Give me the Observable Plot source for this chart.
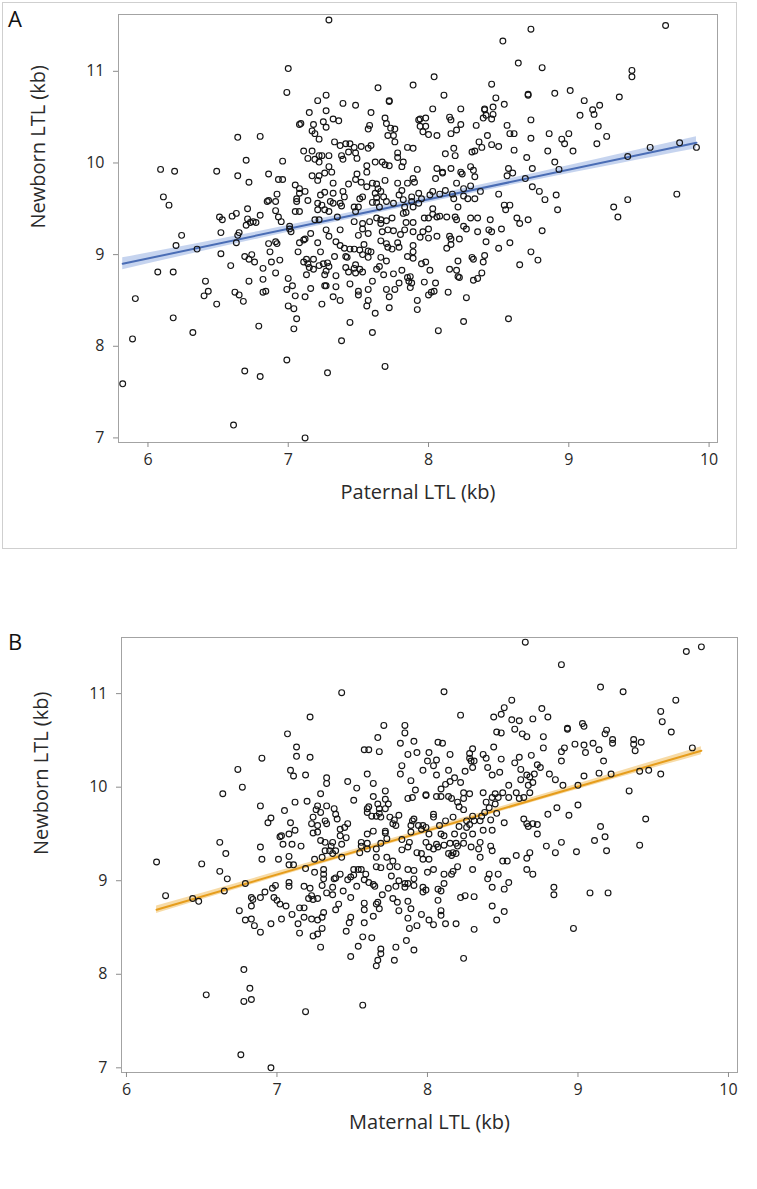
<!DOCTYPE html>
<html><head><meta charset="utf-8">
<script src="https://cdn.jsdelivr.net/npm/d3@7"></script>
<script src="https://cdn.jsdelivr.net/npm/@observablehq/plot@0.6"></script>
<style>
body{margin:0;background:#fff;font-family:"Open Sans",sans-serif;}
#wrap{position:relative;width:757px;height:1189px;overflow:hidden;}
.pl{position:absolute;left:0;}
.lab{position:absolute;font-size:22px;color:#111;font-family:"Open Sans",sans-serif;}
</style></head><body>
<div id="wrap">
  <div style="position:absolute;left:2px;top:2px;width:733px;height:545px;border:1px solid #cfcfcf;"></div>
  <div id="pa" class="pl" style="top:0"></div>
  <div id="pb" class="pl" style="top:620px"></div>
  <div class="lab" style="left:8px;top:3px">A</div>
  <div class="lab" style="left:8px;top:626px">B</div>
</div>
<script>
const xTicks = [6, 7, 8, 9, 10];
const yTicks = [7, 8, 9, 10, 11];
const yTitle = "Newborn LTL (kb)";
const xTitleA = "Paternal LTL (kb)";
const xTitleB = "Maternal LTL (kb)";

// fitted regression lines and confidence bands
const fitAx = [5.82, 9.91];
const fitAy = [8.90, 10.22];
const bandAx = [5.82, 6.8, 7.8, 8.8, 9.91];
const bandAlo = [8.835, 9.176, 9.505, 9.822, 10.155];
const bandAhi = [8.965, 9.256, 9.573, 9.902, 10.285];
const fitBx = [6.2, 9.82];
const fitBy = [8.69, 10.39];
const bandBx = [6.2, 7.1, 8.0, 8.9, 9.82];
const bandBlo = [8.65, 9.085, 9.51, 9.93, 10.347];
const bandBhi = [8.73, 9.141, 9.56, 9.986, 10.433];

const paternalLTL = [
7.00,6.99,7.21,7.27,7.15,7.27,7.08,7.09,7.18,7.17,
7.19,7.25,7.27,7.22,6.64,6.80,6.70,6.96,6.09,6.19,
6.49,6.64,6.72,6.86,6.93,6.96,7.11,7.17,7.14,7.19,
7.22,7.24,7.22,7.17,7.22,7.21,7.26,7.05,7.08,7.12,
7.08,7.06,7.06,7.14,7.23,7.26,6.92,6.91,6.85,6.86,
6.11,6.15,6.51,6.53,6.60,6.63,6.71,6.80,6.71,6.73,
6.75,6.77,6.70,6.91,6.93,6.95,7.05,7.08,7.21,7.24,
7.21,7.26,7.19,7.22,7.01,
6.24,6.52,6.65,6.64,6.20,6.35,6.52,6.63,6.07,6.18,
6.59,6.69,6.74,6.72,6.76,6.86,6.91,6.92,6.87,6.88,
6.82,6.94,6.91,6.72,6.82,6.41,6.43,6.40,6.49,6.62,
6.65,6.68,6.82,6.84,5.91,6.18,6.32,5.89,6.79,7.00,
7.03,6.99,7.05,7.00,7.04,7.06,7.04,7.07,7.08,7.11,
7.12,7.16,7.21,7.23,7.11,7.13,7.14,7.18,7.15,7.13,
7.18,7.22,7.25,7.26,7.26,7.16,7.12,7.24,6.99,6.69,
6.80,5.82,7.28,6.61,7.12,7.27,7.02,7.01,
7.29,8.73,8.53,8.64,8.04,7.64,7.89,8.45,8.11,8.71,
8.71,8.48,7.39,7.48,7.72,7.72,8.40,8.40,8.46,8.54,
8.03,8.23,7.59,7.32,7.36,7.69,7.70,7.73,7.76,7.71,
7.75,7.76,7.58,7.57,7.94,7.93,7.98,7.94,7.98,7.96,
8.00,8.06,8.15,8.16,8.23,8.20,8.16,8.34,8.39,8.41,
8.46,8.45,8.42,8.56,8.58,8.61,8.73,8.73,8.36,8.45,
8.50,8.61,8.70,8.74,8.69,8.74,8.57,8.56,8.60,8.31,
8.33,8.38,8.30,8.33,8.37,8.50,8.54,8.58,8.55,8.63,
8.65,8.71,8.44,8.35,8.30,8.25,7.33,7.37,7.41,7.44,
7.47,7.52,7.57,7.59,7.29,7.38,7.39,7.43,7.48,7.49,
7.85,7.89,7.78,7.78,7.82,7.81,8.12,8.18,8.19,7.62,
7.67,7.69,7.72,7.56,7.56,7.29,7.31,7.49,7.48,7.32,
7.43,7.52,7.56,7.60,7.63,7.64,7.69,7.66,7.78,7.81,
7.89,7.90,7.85,7.92,8.06,8.10,8.10,8.16,8.23,8.24,
8.32,8.20,8.05,8.25,8.30,8.25,8.28,8.33,8.12,8.17,
8.18,8.03,8.01,8.08,7.93,7.95,7.88,7.88,7.82,7.79,
7.75,7.70,7.68,7.62,7.63,7.63,7.65,7.60,7.53,7.51,
7.50,7.47,7.48,7.39,7.40,7.32,7.30,7.32,7.37,7.38,
7.35,7.29,7.47,7.53,7.58,7.63,7.66,7.66,7.70,7.74,
7.82,7.84,7.83,7.89,7.93,7.97,8.00,8.03,8.03,8.06,
8.08,8.13,8.19,8.20,8.21,7.84,7.89,
7.37,7.29,7.53,7.57,7.50,7.67,7.71,7.75,7.80,7.83,
7.89,7.96,7.94,8.00,8.00,8.06,8.15,8.16,8.22,8.16,
8.13,8.27,8.35,8.43,8.45,8.52,8.41,8.50,8.58,8.73,
8.78,8.65,7.34,7.37,7.40,7.44,7.47,7.51,7.54,7.57,
7.53,7.59,7.41,7.42,7.33,7.28,7.27,7.29,7.66,7.70,
7.71,7.74,7.78,7.79,7.89,7.89,7.85,7.89,7.57,7.66,
7.70,7.65,7.63,7.68,7.48,7.47,7.51,7.53,7.48,7.41,
7.43,7.34,7.44,7.27,7.34,7.32,7.37,7.57,7.50,7.50,
7.60,7.70,7.76,7.72,7.57,7.56,7.72,7.62,7.75,7.81,
7.79,7.85,7.87,7.86,7.88,7.87,7.95,7.98,8.01,7.97,
8.05,8.04,8.02,8.00,7.92,7.92,8.14,8.15,8.20,8.21,
8.21,8.22,8.27,8.31,8.32,8.32,8.35,8.38,8.40,8.39,
8.25,8.57,8.07,7.60,7.44,7.38,7.69,
9.69,8.81,9.45,9.45,8.90,9.01,9.11,9.36,9.22,9.17,
9.18,9.08,9.21,9.27,8.86,9.00,8.95,8.97,9.03,8.85,
9.20,8.90,8.93,9.42,9.58,9.79,9.91,8.79,8.83,8.91,
8.92,9.32,9.35,9.42,9.77,8.81
];
const newbornA = [
11.03,10.77,10.68,10.74,10.55,10.57,10.42,10.43,10.42,10.35,
10.32,10.45,10.39,10.26,10.28,10.29,10.03,10.02,9.93,9.91,
9.91,9.86,9.79,9.88,9.82,9.82,10.13,10.13,10.05,10.04,
10.08,10.08,10.01,9.86,9.86,9.81,9.89,9.76,9.72,9.69,
9.67,9.61,9.58,9.59,9.65,9.68,9.66,9.58,9.58,9.59,
9.63,9.54,9.41,9.38,9.42,9.45,9.50,9.43,9.39,9.35,
9.36,9.35,9.32,9.48,9.41,9.36,9.47,9.47,9.56,9.54,
9.49,9.49,9.38,9.38,9.31,
9.21,9.24,9.24,9.21,9.10,9.06,9.01,9.13,8.81,8.81,
8.88,8.98,9.00,8.95,8.92,9.12,9.14,9.12,9.03,8.92,
8.85,8.94,8.80,8.71,8.73,8.71,8.60,8.55,8.46,8.59,
8.56,8.49,8.59,8.60,8.52,8.31,8.15,8.08,8.22,8.74,
8.66,8.62,8.55,8.44,8.41,8.30,8.19,9.03,9.13,9.16,
9.17,9.23,9.13,9.03,8.92,8.95,8.90,8.95,8.86,8.78,
8.84,8.88,8.90,8.78,8.66,8.63,8.54,8.46,7.85,7.73,
7.67,7.59,7.71,7.14,7.00,9.27,9.25,9.28,
11.56,11.46,11.33,11.09,10.94,10.82,10.85,10.86,10.74,10.75,
10.74,10.71,10.65,10.63,10.68,10.67,10.59,10.58,10.61,10.64,
10.59,10.59,10.55,10.48,10.46,10.49,10.43,10.38,10.37,10.30,
10.30,10.23,10.41,10.37,10.48,10.47,10.49,10.40,10.40,10.34,
10.31,10.30,10.50,10.47,10.42,10.36,10.32,10.41,10.49,10.52,
10.53,10.48,10.30,10.41,10.32,10.32,10.47,10.27,10.23,10.20,
10.18,10.14,10.06,9.94,9.83,9.74,9.94,9.86,9.89,10.12,
10.13,10.17,9.96,9.85,9.69,9.66,9.54,9.54,9.49,9.40,
9.34,9.38,9.38,9.40,9.40,9.31,10.23,10.19,10.21,10.21,
10.17,10.18,10.16,10.19,10.08,10.08,10.04,10.12,10.11,10.05,
10.17,10.16,10.11,10.06,10.01,9.96,10.10,10.16,10.08,10.01,
10.01,9.98,9.97,9.97,9.90,9.96,9.90,9.88,9.82,9.78,
9.77,9.79,9.74,9.78,9.77,9.72,9.81,9.69,9.78,9.70,
9.83,9.79,9.78,9.93,9.94,9.90,9.89,9.94,9.90,9.88,
9.92,9.78,9.83,9.72,9.75,9.64,9.61,9.61,9.70,9.66,
9.61,9.69,9.65,9.66,9.67,9.61,9.63,9.58,9.60,9.65,
9.56,9.58,9.63,9.67,9.62,9.57,9.52,9.57,9.63,9.61,
9.52,9.52,9.47,9.69,9.63,9.67,9.58,9.56,9.56,9.53,
9.41,9.47,9.36,9.34,9.36,9.40,9.38,9.34,9.37,9.40,
9.45,9.46,9.52,9.52,9.56,9.40,9.40,9.50,9.44,9.41,
9.42,9.41,9.41,9.38,9.52,9.35,9.35,
9.27,9.20,9.28,9.23,9.21,9.25,9.27,9.26,9.22,9.27,
9.25,9.25,9.19,9.28,9.18,9.20,9.20,9.17,9.17,9.11,
9.07,9.28,9.25,9.27,9.25,9.28,9.14,9.07,9.13,9.03,
8.94,8.89,9.14,9.10,9.07,9.06,9.06,9.05,9.11,9.04,
9.00,9.03,8.98,8.97,8.98,8.91,8.82,8.87,9.15,9.12,
9.08,9.06,9.13,9.08,9.10,9.03,8.98,8.96,8.97,8.97,
8.93,8.87,8.84,8.78,8.89,8.85,8.84,8.81,8.80,8.86,
8.81,8.77,8.68,8.66,8.65,8.54,8.50,8.62,8.60,8.56,
8.71,8.62,8.62,8.54,8.50,8.44,8.42,8.36,8.79,8.83,
8.69,8.75,8.76,8.71,8.69,8.64,8.90,8.92,8.83,8.70,
8.69,8.60,8.59,8.56,8.50,8.40,8.59,8.84,8.83,8.93,
8.76,8.75,8.53,8.97,8.95,8.72,8.74,8.80,8.99,8.92,
8.27,8.30,8.17,8.15,8.26,8.06,7.78,
11.50,11.04,11.01,10.94,10.76,10.79,10.68,10.72,10.63,10.58,
10.53,10.52,10.40,10.29,10.32,10.32,10.26,10.21,10.13,10.13,
10.21,10.01,9.93,10.07,10.17,10.22,10.17,9.69,9.60,9.65,
9.49,9.52,9.41,9.60,9.66,9.26
];

const maternalLTL = [
7.22,7.07,7.13,7.13,7.22,6.90,6.74,6.77,6.64,7.09,
7.11,7.19,7.33,7.33,7.29,7.20,7.12,7.27,7.26,7.29,
7.33,6.89,7.05,6.96,6.94,7.09,7.24,7.23,7.27,7.32,
7.33,7.12,7.08,7.03,7.02,7.24,7.27,7.29,7.32,7.04,
7.10,7.16,6.89,6.62,6.66,6.90,7.01,7.08,7.25,7.30,
7.32,6.20,6.50,7.08,7.11,
6.62,6.67,6.65,6.79,6.26,6.44,6.48,6.75,6.79,6.83,
6.85,6.89,6.83,6.84,6.83,6.89,6.92,6.97,6.99,6.98,
7.00,7.02,7.06,6.96,7.03,7.10,7.08,7.08,7.15,7.18,
7.18,7.14,7.15,7.18,7.22,7.23,7.21,7.24,7.27,7.23,
7.27,7.30,7.31,7.30,7.24,7.27,7.29,7.25,7.31,7.31,
7.31,7.30,7.33,7.19,6.78,6.82,6.78,6.83,6.53,7.19,
6.76,6.96,
7.43,8.11,8.22,8.56,8.51,8.49,8.44,8.56,8.61,8.70,
8.58,8.63,8.66,8.46,8.49,7.71,7.85,7.85,7.67,7.82,
7.91,8.07,8.10,8.44,7.58,7.61,7.68,7.87,7.93,8.01,
8.15,8.30,8.28,8.37,8.39,8.28,8.29,8.31,8.49,8.61,
8.69,8.00,8.06,8.04,7.83,7.82,7.97,8.06,8.14,8.25,
8.30,8.40,8.43,8.48,8.58,8.62,8.66,8.68,8.71,8.62,
8.67,8.70,7.60,7.47,7.53,7.64,7.72,7.64,7.72,7.51,
7.89,7.92,7.87,7.90,7.99,7.99,8.06,8.09,8.09,8.12,
8.15,8.18,8.14,8.16,8.22,8.24,8.28,8.37,8.24,8.20,
8.21,8.24,8.39,8.43,8.45,8.47,8.50,8.54,8.54,8.59,
8.61,8.64,8.68,8.45,8.41,8.38,8.46,8.36,8.30,8.26,
8.31,8.35,8.42,8.51,8.64,8.67,8.66,8.70,7.38,7.39,
7.40,7.42,7.47,7.45,7.42,7.46,7.37,7.43,7.36,7.35,
7.37,7.61,7.60,7.67,7.68,7.72,7.74,7.60,7.63,7.66,
7.69,7.68,7.75,7.78,7.77,7.79,7.81,7.72,7.72,7.64,
7.60,7.60,7.56,7.60,7.66,7.69,7.73,7.83,7.88,7.90,
7.91,7.89,7.94,7.97,7.96,7.99,8.01,7.89,8.04,8.04,
8.08,8.12,8.09,8.11,8.17,8.18,8.21,8.24,8.26,8.28,
8.30,8.37,8.43,7.99,8.06,8.01,8.04,8.07,8.11,8.15,
8.19,8.20,8.24,8.17,8.16,8.14,8.19,8.29,8.35,8.34,
8.42,8.43,8.35,8.50,8.53,8.59,8.66,8.68,7.83,7.87,
7.93,7.96,7.97,8.01,7.55,7.56,7.66,7.73,7.77,7.43,
7.39,
8.89,9.15,9.30,9.65,9.55,9.56,9.62,9.76,8.76,8.80,
8.77,8.77,8.93,8.93,9.03,9.04,9.19,9.18,9.23,9.23,
9.37,9.37,9.42,9.38,8.98,9.04,9.10,9.05,9.14,8.91,
8.89,8.89,9.17,8.73,8.75,8.81,8.85,8.90,9.04,9.14,
9.22,9.00,9.41,9.47,9.55,9.34,9.00,8.86,8.80,8.94,
9.45,8.73,8.73,8.79,8.85,8.89,8.99,9.15,9.18,9.11,
9.19,9.41,
7.42,7.39,7.38,7.37,7.44,7.37,7.47,7.49,7.51,7.51,
7.54,7.56,7.53,7.59,7.58,7.61,7.64,7.65,7.66,7.69,
7.75,7.80,7.87,7.91,7.76,7.81,7.85,7.87,7.91,7.91,
7.85,7.79,7.74,7.70,7.97,7.97,7.99,8.00,8.04,8.07,
8.09,8.11,8.11,8.16,8.17,8.20,8.30,8.41,8.40,8.47,
8.54,8.51,8.43,8.66,8.70,8.22,8.25,8.31,8.07,8.09,
8.09,8.12,8.19,8.04,8.01,7.96,7.93,7.88,7.87,7.89,
7.87,7.80,7.77,7.81,7.67,7.66,7.68,7.64,7.58,7.58,
7.58,7.49,7.41,7.39,7.49,7.48,7.46,7.57,7.63,7.54,
7.49,7.69,7.69,7.67,7.66,7.78,7.79,7.86,7.91,8.43,
8.51,8.46,8.31,8.24,7.57,
8.84,8.84,9.08,9.20,8.97,
8.65,9.72,9.82
];
const newbornB = [
10.75,10.57,10.43,10.33,10.32,10.31,10.19,10.00,9.93,10.18,
10.12,10.13,10.10,10.04,9.93,9.85,9.84,9.80,9.76,9.73,
9.80,9.80,9.75,9.67,9.62,9.62,9.68,9.61,9.59,9.64,
9.61,9.54,9.50,9.48,9.47,9.51,9.52,9.43,9.41,9.39,
9.39,9.37,9.36,9.41,9.29,9.23,9.23,9.26,9.23,9.25,
9.32,9.20,9.18,9.17,9.17,
9.10,9.02,8.89,8.97,8.84,8.81,8.78,8.68,8.58,8.59,
8.52,8.45,8.73,8.80,8.82,8.82,8.88,8.92,8.95,8.82,
8.79,8.75,8.73,8.54,8.59,8.64,8.94,8.98,8.71,8.71,
8.61,8.54,8.44,8.94,8.92,8.84,8.81,8.80,8.81,8.59,
8.58,8.61,8.66,8.49,8.41,8.43,8.29,9.09,9.12,9.07,
9.02,8.95,8.87,9.13,8.05,7.85,7.71,7.73,7.78,7.60,
7.14,7.00,
11.01,11.02,10.77,10.93,10.85,10.78,10.75,10.72,10.71,10.73,
10.62,10.57,10.54,10.59,10.58,10.66,10.66,10.58,10.53,10.47,
10.49,10.48,10.47,10.43,10.40,10.40,10.38,10.35,10.37,10.37,
10.35,10.41,10.36,10.35,10.31,10.31,10.28,10.28,10.30,10.32,
10.34,10.28,10.29,10.23,10.23,10.14,10.18,10.13,10.18,10.17,
10.21,10.21,10.13,10.16,10.26,10.19,10.13,10.11,10.14,10.08,
10.02,10.05,10.14,10.06,9.99,10.04,9.96,9.90,9.87,9.86,
10.07,9.97,9.88,9.89,9.92,9.91,9.90,9.90,9.98,10.03,
10.06,10.10,9.90,9.88,10.05,9.94,9.93,9.94,9.88,9.84,
9.79,9.76,9.84,9.89,9.93,9.89,9.94,10.02,9.89,9.94,
9.88,9.89,9.94,9.82,9.78,9.73,9.72,9.69,9.69,9.64,
9.64,9.64,9.65,9.62,9.66,9.58,9.61,9.61,9.77,9.71,
9.66,9.55,9.61,9.57,9.48,9.46,9.41,9.39,9.37,9.32,
9.29,9.79,9.77,9.82,9.77,9.77,9.82,9.73,9.69,9.69,
9.68,9.72,9.68,9.65,9.61,9.59,9.70,9.53,9.51,9.53,
9.50,9.40,9.37,9.34,9.34,9.40,9.45,9.44,9.41,9.64,
9.66,9.59,9.59,9.59,9.55,9.57,9.50,9.52,9.71,9.68,
9.59,9.64,9.50,9.48,9.68,9.50,9.58,9.48,9.57,9.60,
9.50,9.54,9.54,9.41,9.39,9.36,9.34,9.36,9.38,9.40,
9.40,9.37,9.40,9.30,9.27,9.29,9.29,9.36,9.41,9.34,
9.37,9.32,9.25,9.21,9.21,9.27,9.24,9.30,9.33,9.36,
9.30,9.29,9.23,9.23,9.30,9.41,9.25,9.25,9.21,9.25,
9.32,
11.31,11.07,11.02,10.93,10.81,10.70,10.59,10.42,10.84,10.75,
10.54,10.42,10.63,10.62,10.68,10.65,10.61,10.57,10.51,10.47,
10.51,10.46,10.48,10.39,10.46,10.45,10.47,10.37,10.40,10.42,
10.38,10.28,10.28,10.24,10.21,10.14,10.08,10.02,10.12,10.15,
10.14,10.02,10.17,10.18,10.14,9.96,9.81,9.78,9.71,9.70,
9.66,9.60,9.50,9.37,9.30,9.41,9.31,9.58,9.47,9.43,
9.32,9.38,
9.07,9.03,9.02,8.93,8.89,8.85,9.01,9.04,9.06,9.12,
9.12,9.12,8.94,9.07,9.01,8.98,8.96,8.94,9.15,9.14,
9.15,9.15,9.12,9.11,9.05,9.00,8.97,8.97,9.02,8.95,
8.93,8.94,8.92,8.85,8.93,8.88,8.90,9.09,9.12,8.91,
8.89,8.97,9.07,9.07,9.10,9.15,9.12,9.07,9.02,9.07,
8.98,8.91,8.93,9.12,9.07,8.82,8.84,8.83,8.79,8.68,
8.63,8.54,8.54,8.53,8.58,8.64,8.52,8.49,8.60,8.70,
8.78,8.77,8.81,8.68,8.77,8.75,8.70,8.62,8.76,8.69,
8.55,8.82,8.75,8.69,8.61,8.55,8.46,8.40,8.39,8.30,
8.19,8.27,8.22,8.15,8.09,8.15,8.29,8.36,8.26,8.73,
8.67,8.58,8.48,8.17,7.67,
8.93,8.85,8.87,8.87,8.49,
11.55,11.45,11.50
];

const dataA = paternalLTL.map((x, i) => ({x, y: newbornA[i]}));
const dataB = maternalLTL.map((x, i) => ({x, y: newbornB[i]}));
const zip2 = (xs, ys) => xs.map((x, i) => ({x, y: ys[i]}));
const zip3 = (xs, lo, hi) => xs.map((x, i) => ({x, lo: lo[i], hi: hi[i]}));

function panel(o) {
  return Plot.plot({
    width: 757, height: o.height,
    marginLeft: o.ml, marginRight: o.mr, marginTop: o.mt, marginBottom: o.mb,
    style: {fontFamily: "'Open Sans', sans-serif", fontSize: "16px", color: "#2a2a2a", background: "transparent", overflow: "visible"},
    x: {domain: o.dx}, y: {domain: o.dy},
    marks: [
      Plot.areaY(o.band, {x: "x", y1: "lo", y2: "hi", fill: o.bandColor, fillOpacity: 0.85, curve: "natural"}),
      Plot.line(o.fit, {x: "x", y: "y", stroke: o.line, strokeWidth: 2}),
      Plot.dot(o.data, {x: "x", y: "y", r: 2.9, stroke: "#161616", strokeWidth: 1.15, fill: "none"}),
      Plot.frame({stroke: "#a3a3a3"}),
      Plot.axisX({ticks: xTicks, tickFormat: d3.format("d"), tickSize: 5, tickPadding: 6, stroke: "#8c8c8c", fill: "#2a2a2a", label: null, fontSize: 16}),
      Plot.axisY({ticks: yTicks, tickFormat: d3.format("d"), tickSize: 5, tickPadding: 9, stroke: "#8c8c8c", fill: "#2a2a2a", label: null, fontSize: 16}),
      Plot.text([o.xTitle], {text: d => d, frameAnchor: "bottom", dy: 56, fontSize: 20, fill: "#2a2a2a"}),
      Plot.text([yTitle], {text: d => d, frameAnchor: "left", dx: -80, rotate: -90, fontSize: 20, fill: "#2a2a2a"})
    ]
  });
}

document.getElementById("pa").append(panel({
  data: dataA, fit: zip2(fitAx, fitAy), band: zip3(bandAx, bandAlo, bandAhi),
  height: 550, ml: 118, mr: 40, mt: 14, mb: 108,
  dx: [5.79, 10.06], dy: [6.95, 11.62], line: "#4a6db5", bandColor: "#bccdec", xTitle: xTitleA
}));
document.getElementById("pb").append(panel({
  data: dataB, fit: zip2(fitBx, fitBy), band: zip3(bandBx, bandBlo, bandBhi),
  height: 569, ml: 121, mr: 20, mt: 17, mb: 117,
  dx: [5.967, 10.06], dy: [6.95, 11.6], line: "#e69d1c", bandColor: "#f6d596", xTitle: xTitleB
}));
</script>
</body></html>
